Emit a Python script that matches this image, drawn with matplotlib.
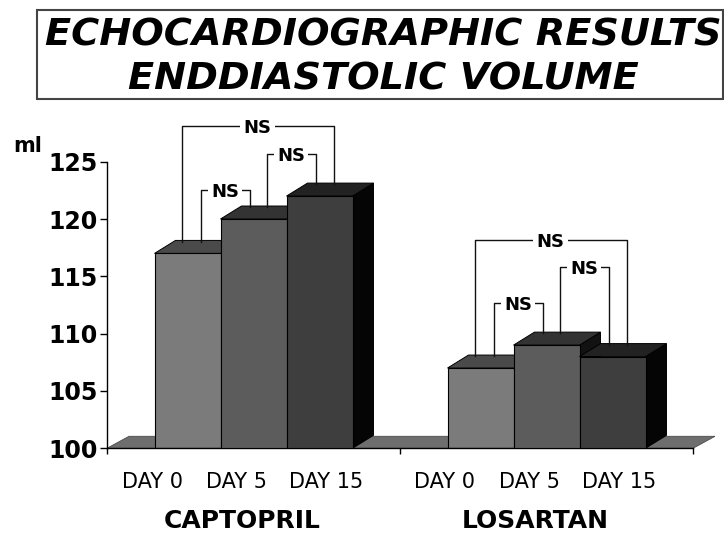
import numpy as np
import matplotlib.pyplot as plt
from matplotlib.patches import Polygon, Rectangle

# values (ml)
groups = ['CAPTOPRIL', 'LOSARTAN']
days = ['DAY 0', 'DAY 5', 'DAY 15']
captopril = [117, 120, 122]
losartan = [107, 109, 108]

# NS brackets: pairs of days and the height of each bracket
ns_pairs = [(0, 1), (1, 2), (0, 2)]
captopril_ns = [122.5, 125.7, 128.1]
losartan_ns = [112.7, 115.8, 118.2]

front_c = ['#7b7b7b', '#5c5c5c', '#3e3e3e']
top_c = ['#4a4a4a', '#333333', '#222222']
side_c = ['#1c1c1c', '#121212', '#050505']

fig = plt.figure(figsize=(7.24, 5.35), dpi=100)
ax = fig.add_axes([107 / 724, 1 - 448.3 / 535, 586 / 724, 286.6 / 535])
ax.set_xlim(0, 2)
ax.set_ylim(100, 125)

# pixel -> data helpers for the fake 3d depth
px = 2 / 586
py = 25 / 286.6
DX, DY = 21 * px, 13 * py
bw = 66 * px

# floor
floor = Polygon([(0, 100), (2, 100), (2 + 22 * px, 100 + 12 * py), (22 * px, 100 + 12 * py)],
                closed=True, fc='#6e6e6e', ec='#4a4a4a', lw=0.6, clip_on=False, zorder=1)
ax.add_patch(floor)

for gi, (vals, ns_h) in enumerate(zip([captopril, losartan], [captopril_ns, losartan_ns])):
    center = gi + 0.5
    lefts = center + (np.arange(3) - 1.5) * bw
    for i, v in enumerate(vals):
        x0, x1 = lefts[i], lefts[i] + bw
        ax.add_patch(Polygon([(x1, 100), (x1 + DX, 100 + DY), (x1 + DX, v + DY), (x1, v)],
                             fc=side_c[i], ec='black', lw=0.7, clip_on=False, zorder=2 + i))
        ax.add_patch(Polygon([(x0, v), (x1, v), (x1 + DX, v + DY), (x0 + DX, v + DY)],
                             fc=top_c[i], ec='black', lw=0.7, clip_on=False, zorder=2 + i))
        ax.bar(x0, v - 100, bottom=100, width=bw, align='edge', color=front_c[i],
               edgecolor='black', linewidth=0.8, zorder=2 + i)

    # significance brackets
    for (i, j), h in zip(ns_pairs, ns_h):
        inner = (j - i) == 1
        xa = lefts[i] + (46 if inner else 27) * px
        xb = lefts[j] + (29 if inner else 47) * px
        ya = vals[i] + DY * 0.9
        yb = vals[j] + DY * 0.9
        ax.plot([xa, xa, xb, xb], [ya, h, h, yb], color='#111111', lw=1,
                clip_on=False, zorder=8)
        ax.annotate('NS', ((xa + xb) / 2, h), xytext=(0, -5), textcoords='offset points',
                    ha='center', va='baseline', fontsize=13, fontweight='bold',
                    bbox=dict(fc='white', ec='none', pad=2.5), annotation_clip=False, zorder=9)

# day labels and group labels under the floor
day_off = np.array([-101.5, -17, 73]) * px
for gi, g in enumerate(groups):
    center = gi + 0.5
    for k, d in enumerate(days):
        ax.text(center + day_off[k], -0.1385, d, transform=ax.get_xaxis_transform(),
                ha='center', va='baseline', fontsize=15)
    ax.text(center - 11 * px, -0.277, g, transform=ax.get_xaxis_transform(),
            ha='center', va='baseline', fontsize=18, fontweight='bold')

ax.spines[['top', 'right']].set_visible(False)
ax.spines['left'].set_linewidth(1)
ax.spines['bottom'].set_linewidth(1)
ax.set_yticks(range(100, 126, 5))
ax.set_yticklabels([str(t) for t in range(100, 126, 5)], fontsize=17, fontweight='bold')
ax.tick_params(axis='y', direction='out', length=5, width=1, pad=2)
ax.set_xticks([0, 1, 2])
ax.set_xticklabels([])
ax.tick_params(axis='x', direction='out', length=4, width=1)

fig.text(13 / 724, 1 - 152 / 535, 'ml', fontsize=15, fontweight='bold', ha='left', va='baseline')

# title box
fig.add_artist(Rectangle((37 / 724, 1 - 99 / 535), 686 / 724, 89 / 535, transform=fig.transFigure,
                         fill=False, ec='#444444', lw=1.5))
fig.text(383 / 724, 1 - 45 / 535, 'ECHOCARDIOGRAPHIC RESULTS', fontsize=27.5,
         fontweight='bold', style='italic', ha='center', va='baseline')
fig.text(383 / 724, 1 - 90 / 535, 'ENDDIASTOLIC VOLUME', fontsize=27.5,
         fontweight='bold', style='italic', ha='center', va='baseline')

fig.savefig('out.png', dpi=100)
